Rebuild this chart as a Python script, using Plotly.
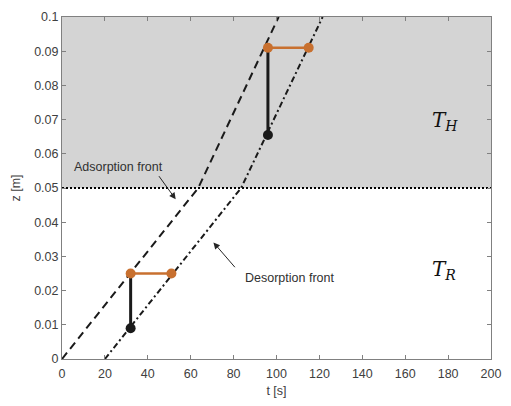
import plotly.graph_objects as go

# Fronts (t [s], z [m])
ads_t = [0, 63.5, 101]
ads_z = [0, 0.05, 0.1]
des_t = [20, 83.5, 121.5]
des_z = [0, 0.05, 0.1]

# Boundary between regions
boundary_z = 0.05
t_range = [0, 200]
z_range = [0, 0.1]

# Lower marker construction
low_black_t = [32, 32]
low_black_z = [0.009, 0.025]
low_orange_t = [32, 51]
low_orange_z = [0.025, 0.025]

# Upper marker construction
up_black_t = [96, 96]
up_black_z = [0.0655, 0.091]
up_orange_t = [96, 115]
up_orange_z = [0.091, 0.091]

x_ticks = list(range(0, 201, 20))
y_ticks = [0, 0.01, 0.02, 0.03, 0.04, 0.05, 0.06, 0.07, 0.08, 0.09, 0.1]
y_ticklabels = ["0", "0.01", "0.02", "0.03", "0.04", "0.05", "0.06", "0.07", "0.08", "0.09", "0.1"]

ORANGE = "#c8702f"
BLACK = "#1a1a1a"
GREY_BG = "#d4d4d4"
FONT = "Liberation Sans, Arial, sans-serif"

fig = go.Figure()

fig.add_trace(go.Scatter(x=t_range, y=[boundary_z, boundary_z], mode="lines",
                         line=dict(color="black", width=2, dash="2px,2px"), hoverinfo="skip"))
fig.add_trace(go.Scatter(x=ads_t, y=ads_z, mode="lines",
                         line=dict(color=BLACK, width=2, dash="8px,5px")))
fig.add_trace(go.Scatter(x=des_t, y=des_z, mode="lines",
                         line=dict(color=BLACK, width=2, dash="6px,3px,2px,3px")))

for bt, bz, ot, oz in [(low_black_t, low_black_z, low_orange_t, low_orange_z),
                       (up_black_t, up_black_z, up_orange_t, up_orange_z)]:
    fig.add_trace(go.Scatter(x=bt, y=bz, mode="lines",
                             line=dict(color=BLACK, width=3)))
    fig.add_trace(go.Scatter(x=bt[:1], y=bz[:1], mode="markers",
                             marker=dict(color=BLACK, size=10, line=dict(width=0))))
    fig.add_trace(go.Scatter(x=ot, y=oz, mode="lines+markers",
                             line=dict(color=ORANGE, width=2.5),
                             marker=dict(color=ORANGE, size=10, line=dict(width=0))))

fig.add_shape(type="rect", xref="x", yref="y", x0=t_range[0], x1=t_range[1],
              y0=boundary_z, y1=z_range[1], fillcolor=GREY_BG, line=dict(width=0), layer="below")

ann_font = dict(family=FONT, size=12.5, color="#303030")
fig.add_annotation(x=4.7, y=0.0562, text="Adsorption front", showarrow=False,
                   xanchor="left", yanchor="middle", font=ann_font)
fig.add_annotation(x=53, y=0.0467, ax=44.7, ay=0.0539, axref="x", ayref="y",
                   text="", showarrow=True, arrowhead=2, arrowsize=1.3, arrowwidth=1, arrowcolor="#262626")
fig.add_annotation(x=84.3, y=0.0238, text="Desorption front", showarrow=False,
                   xanchor="left", yanchor="middle", font=ann_font)
fig.add_annotation(x=70.6, y=0.0341, ax=81.2, ay=0.0264, axref="x", ayref="y",
                   text="", showarrow=True, arrowhead=2, arrowsize=1.3, arrowwidth=1, arrowcolor="#262626")

T_font = dict(family="DejaVu Serif, Liberation Serif, serif", size=20, color="#111111")
fig.add_annotation(x=171.5, y=0.0697, text="<i>T</i><sub><i>H</i></sub>", showarrow=False,
                   xanchor="left", yanchor="middle", font=T_font)
fig.add_annotation(x=171.5, y=0.026, text="<i>T</i><sub><i>R</i></sub>", showarrow=False,
                   xanchor="left", yanchor="middle", font=T_font)

axis_common = dict(showgrid=False, zeroline=False, showline=True, linecolor="#808080",
                   linewidth=1, mirror="ticks", ticks="inside", ticklen=4, tickcolor="#808080",
                   tickfont=dict(family=FONT, size=12.5, color="#404040"))

fig.update_xaxes(range=t_range, tickvals=x_ticks, ticklabelstandoff=3,
                 title=dict(text="t [s]", standoff=6,
                 font=dict(family=FONT, size=12.5, color="#404040")), **axis_common)
fig.update_yaxes(range=z_range, tickvals=y_ticks, ticktext=y_ticklabels,
                 title=dict(text="z [m]", standoff=10, font=dict(family=FONT, size=12.5, color="#404040")),
                 **axis_common)

fig.update_layout(width=511, height=406, margin=dict(l=62, r=10, t=16, b=45),
                  plot_bgcolor="white", paper_bgcolor="white", showlegend=False)

fig.write_html("out.html")
